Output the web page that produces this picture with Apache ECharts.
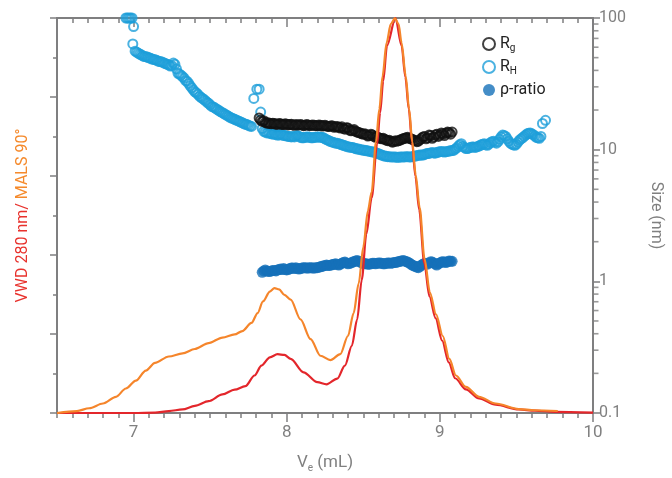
<!DOCTYPE html>
<html>
<head>
<meta charset="utf-8">
<script src="https://cdn.jsdelivr.net/npm/echarts@6/dist/echarts.min.js"></script>
<style>html,body{margin:0;padding:0;background:#fff}#c{width:672px;height:478px}</style>
</head>
<body>
<div id="c"></div>
<script>
// ---- data ----
const xTickLabels = [7, 8, 9, 10];
const sizeTickLabels = [0.1, 1, 10, 100];
const sizeMinorTicks = [0.2,0.3,0.4,0.5,0.6,0.7,0.8,0.9,2,3,4,5,6,7,8,9,20,30,40,50,60,70,80,90];

const malsX = [6.5,6.63,6.71,6.8,6.885,6.95,7.015,7.08,7.14,7.23,7.32,7.4,7.49,7.58,7.66,7.71,7.77,7.81,7.845,7.89,7.92,7.95,7.985,8.026,8.09,8.156,8.22,8.285,8.35,8.4,8.437,8.47,8.5,8.53,8.555,8.583,8.605,8.626,8.652,8.68,8.706,8.73,8.75,8.777,8.799,8.82,8.842,8.868,8.9,8.935,8.975,9.019,9.062,9.105,9.17,9.256,9.364,9.515,9.62,9.77];
const malsY = [0,0.5,1.2,2.4,4.1,6.2,8.2,10.75,12.7,14.3,15.1,16.2,17.7,19.1,19.9,20.75,22.8,25.3,28.25,30.75,31.6,31.3,29.9,28.7,23.7,18.7,14.5,13.4,14.9,19.5,25.3,32.8,42,51.2,56,68.7,77,85.3,93.7,98.5,99.9,98.5,93.7,85.3,77,68.7,60.3,52,39,30.5,25,19.5,13.7,9.5,6.6,4.1,2.4,1.0,0.7,0.5];

const vwdX = [6.5,7.0,7.14,7.23,7.32,7.4,7.49,7.58,7.66,7.73,7.79,7.835,7.89,7.94,7.985,8.026,8.11,8.2,8.26,8.33,8.38,8.425,8.46,8.49,8.52,8.555,8.59,8.61,8.63,8.655,8.71,8.75,8.775,8.797,8.818,8.84,8.865,8.898,8.932,8.972,9.015,9.058,9.1,9.17,9.256,9.364,9.515,9.62,9.75,10];
const vwdY = [0,0,0.1,0.5,0.9,1.8,3.0,4.7,5.9,6.8,9.5,12,14.1,14.9,14.7,13.7,10.3,7.8,7.25,8.7,12,17,23.7,33.7,45.3,54.5,68,76,84,93,100,93,85,77,68.7,60,51.5,38,29.5,24,18.3,12.8,8.8,6.0,3.7,2.1,0.9,0.6,0.3,0.1];

const rgData = [[7.82,17.4],[7.83,16.8],[7.84,16.4],[7.85,16.6],[7.86,16.1],[7.87,15.9],[7.88,16.0],[7.89,15.8],[7.90,15.7],[7.91,15.9],[7.92,15.8],[7.93,15.6],[7.94,15.6],[7.95,15.8],[7.96,15.7],[7.97,15.5],[7.98,15.5],[7.99,15.7],[8.00,15.6],[8.01,15.4],[8.02,15.5],[8.03,15.6],[8.04,15.4],[8.05,15.3],[8.06,15.5],[8.07,15.4],[8.08,15.4],[8.09,15.5],[8.10,15.4],[8.11,15.2],[8.12,15.3],[8.13,15.5],[8.14,15.4],[8.15,15.2],[8.16,15.3],[8.17,15.4],[8.18,15.3],[8.19,15.2],[8.20,15.2],[8.21,15.4],[8.22,15.3],[8.23,15.1],[8.24,15.2],[8.25,15.3],[8.26,15.1],[8.27,15.0],[8.28,15.0],[8.29,15.2],[8.30,15.1],[8.31,14.8],[8.32,14.9],[8.33,15.0],[8.34,14.8],[8.35,14.6],[8.36,14.9],[8.37,14.5],[8.38,14.3],[8.39,14.7],[8.40,14.6],[8.41,14.1],[8.42,13.9],[8.43,14.0],[8.44,14.2],[8.45,13.8],[8.46,13.6],[8.47,13.5],[8.48,13.4],[8.49,13.2],[8.50,13.1],[8.51,13.2],[8.52,13.0],[8.53,12.7],[8.54,12.8],[8.55,13.1],[8.56,12.9],[8.57,12.6],[8.58,12.4],[8.59,12.5],[8.60,12.3],[8.61,12.2],[8.62,12.1],[8.63,12.2],[8.64,12.0],[8.65,11.8],[8.66,11.7],[8.67,11.8],[8.68,11.6],[8.69,11.4],[8.70,11.5],[8.71,11.7],[8.72,11.6],[8.73,11.7],[8.74,11.8],[8.75,12.0],[8.76,12.1],[8.77,12.2],[8.78,12.3],[8.79,12.4],[8.80,12.2],[8.81,12.1],[8.82,12.0],[8.83,11.8],[8.84,11.7],[8.85,11.5],[8.86,11.6],[8.87,11.9],[8.88,12.2],[8.89,12.5],[8.90,12.6],[8.91,12.1],[8.92,12.3],[8.93,12.9],[8.94,12.8],[8.95,12.2],[8.96,12.5],[8.97,12.9],[8.98,13.1],[8.99,12.6],[9.00,12.9],[9.01,13.4],[9.02,13.2],[9.03,12.8],[9.04,13.3],[9.05,13.6],[9.06,13.5],[9.07,13.1],[9.08,13.6]];

const rhData = [[6.95,100],[6.96,100],[6.97,100],[6.98,100],[6.99,100],[7.00,86],[6.995,63.5],[7.01,56],[7.02,55],[7.03,54],[7.04,53.2],[7.05,52.5],[7.06,51.6],[7.07,51],[7.08,50.8],[7.09,50.5],[7.10,49.9],[7.11,49.5],[7.12,48.8],[7.13,48.5],[7.14,48.2],[7.15,47.8],[7.16,47.0],[7.17,46.8],[7.18,46.5],[7.19,46.2],[7.20,45.4],[7.21,45.0],[7.22,44.5],[7.23,44.0],[7.24,43.2],[7.25,43.5],[7.26,45.5],[7.27,44.5],[7.28,41],[7.29,38],[7.30,37.5],[7.31,36.8],[7.32,35.8],[7.33,35],[7.34,33.5],[7.35,33],[7.36,31.8],[7.37,30.5],[7.38,29.5],[7.39,28.4],[7.40,27.5],[7.41,27],[7.42,26.3],[7.43,25.5],[7.44,25.0],[7.45,24.5],[7.46,24.0],[7.47,23.5],[7.48,22.9],[7.49,22.5],[7.50,21.9],[7.51,21.3],[7.52,21.1],[7.53,20.8],[7.54,20.4],[7.55,20.1],[7.56,19.7],[7.57,19.4],[7.58,19.1],[7.59,18.8],[7.60,18.5],[7.61,18.2],[7.62,17.9],[7.63,17.6],[7.64,17.4],[7.65,17.2],[7.66,17.0],[7.67,16.8],[7.68,16.6],[7.69,16.4],[7.70,16.2],[7.71,16.0],[7.72,15.8],[7.73,15.6],[7.74,15.5],[7.75,15.3],[7.76,15.1],[7.77,15.0],[7.785,24.5],[7.805,28.8],[7.82,28.8],[7.83,19.3],[7.84,14.5],[7.85,13.8],[7.86,13.6],[7.87,13.4],[7.88,13.5],[7.89,13.3],[7.90,13.2],[7.91,13.1],[7.92,13.2],[7.93,13.0],[7.94,12.9],[7.95,12.9],[7.96,13.1],[7.97,13.0],[7.98,12.8],[7.99,12.8],[8.00,12.7],[8.01,12.6],[8.02,12.6],[8.03,12.5],[8.04,12.6],[8.05,12.5],[8.06,12.7],[8.07,12.8],[8.08,12.6],[8.09,12.4],[8.10,12.3],[8.11,12.3],[8.12,12.4],[8.13,12.5],[8.14,12.5],[8.15,12.4],[8.16,12.3],[8.17,12.3],[8.18,12.4],[8.19,12.4],[8.20,12.5],[8.21,12.5],[8.22,12.4],[8.23,12.4],[8.24,12.3],[8.25,12.1],[8.26,11.9],[8.27,11.8],[8.28,11.6],[8.29,11.5],[8.30,11.4],[8.31,11.3],[8.32,11.2],[8.33,11.2],[8.34,11.1],[8.35,11.0],[8.36,10.9],[8.37,10.8],[8.38,10.7],[8.39,10.6],[8.40,10.5],[8.41,10.5],[8.42,10.4],[8.43,10.4],[8.44,10.3],[8.45,10.2],[8.46,10.1],[8.47,10.1],[8.48,10.0],[8.49,10.0],[8.50,9.9],[8.51,9.9],[8.52,9.8],[8.53,9.8],[8.54,9.7],[8.55,9.7],[8.56,9.6],[8.57,9.6],[8.58,9.5],[8.59,9.4],[8.60,9.3],[8.61,9.2],[8.62,9.1],[8.63,9.0],[8.64,8.95],[8.65,8.9],[8.66,8.85],[8.67,8.85],[8.68,8.8],[8.69,8.8],[8.70,8.8],[8.71,8.8],[8.72,8.75],[8.73,8.75],[8.74,8.8],[8.75,8.8],[8.76,8.8],[8.77,8.8],[8.78,8.85],[8.79,8.85],[8.80,8.8],[8.81,8.8],[8.82,8.85],[8.83,8.9],[8.84,8.95],[8.85,9.0],[8.86,9.05],[8.87,9.1],[8.88,9.1],[8.89,9.1],[8.90,9.2],[8.91,9.3],[8.92,9.35],[8.93,9.4],[8.94,9.45],[8.95,9.5],[8.96,9.45],[8.97,9.4],[8.98,9.5],[8.99,9.6],[9.00,9.65],[9.01,9.7],[9.02,9.65],[9.03,9.6],[9.04,9.65],[9.05,9.7],[9.06,9.75],[9.07,9.8],[9.08,9.85],[9.09,9.9],[9.10,10.1],[9.11,10.3],[9.12,10.6],[9.13,10.9],[9.14,11.1],[9.15,10.6],[9.16,10.4],[9.17,10.2],[9.18,10.2],[9.19,10.3],[9.20,10.4],[9.21,10.5],[9.22,10.5],[9.23,10.4],[9.24,10.5],[9.25,10.6],[9.26,10.7],[9.27,10.9],[9.28,11.0],[9.29,11.1],[9.30,10.9],[9.31,10.8],[9.32,11.0],[9.33,11.3],[9.34,11.5],[9.35,11.6],[9.36,11.4],[9.37,11.2],[9.38,11.5],[9.39,12.0],[9.40,12.5],[9.41,12.9],[9.42,12.8],[9.43,12.6],[9.44,12.1],[9.45,11.6],[9.46,11.2],[9.47,11.0],[9.48,10.9],[9.49,10.8],[9.50,11.0],[9.51,11.4],[9.52,11.8],[9.53,12.1],[9.54,12.3],[9.55,12.6],[9.56,12.9],[9.57,13.2],[9.58,13.3],[9.59,13.4],[9.60,13.2],[9.61,13.0],[9.62,12.7],[9.63,12.4],[9.64,12.3],[9.65,12.2],[9.66,12.6],[9.67,15.8],[9.69,16.7]];

const rhoData = [[7.84,1.17],[7.85,1.20],[7.86,1.22],[7.87,1.20],[7.88,1.19],[7.89,1.19],[7.90,1.20],[7.91,1.21],[7.92,1.21],[7.93,1.20],[7.94,1.22],[7.95,1.23],[7.96,1.24],[7.97,1.23],[7.98,1.25],[7.99,1.23],[8.00,1.22],[8.01,1.23],[8.02,1.25],[8.03,1.26],[8.04,1.26],[8.05,1.25],[8.06,1.27],[8.07,1.25],[8.08,1.24],[8.09,1.25],[8.10,1.26],[8.11,1.27],[8.12,1.27],[8.13,1.26],[8.14,1.26],[8.15,1.27],[8.16,1.27],[8.17,1.26],[8.18,1.26],[8.19,1.27],[8.20,1.27],[8.21,1.28],[8.22,1.29],[8.23,1.30],[8.24,1.31],[8.25,1.32],[8.26,1.33],[8.27,1.32],[8.28,1.32],[8.29,1.33],[8.30,1.34],[8.31,1.35],[8.32,1.36],[8.33,1.34],[8.34,1.33],[8.35,1.35],[8.36,1.37],[8.37,1.39],[8.38,1.40],[8.39,1.38],[8.40,1.36],[8.41,1.37],[8.42,1.38],[8.43,1.40],[8.44,1.41],[8.45,1.43],[8.46,1.44],[8.47,1.42],[8.48,1.40],[8.49,1.38],[8.50,1.37],[8.51,1.36],[8.52,1.36],[8.53,1.35],[8.54,1.35],[8.55,1.36],[8.56,1.37],[8.57,1.37],[8.58,1.36],[8.59,1.37],[8.60,1.38],[8.61,1.38],[8.62,1.37],[8.63,1.36],[8.64,1.36],[8.65,1.37],[8.66,1.38],[8.67,1.38],[8.68,1.37],[8.69,1.38],[8.70,1.39],[8.71,1.39],[8.72,1.40],[8.73,1.41],[8.74,1.42],[8.75,1.43],[8.76,1.44],[8.77,1.43],[8.78,1.41],[8.79,1.40],[8.80,1.38],[8.81,1.35],[8.82,1.33],[8.83,1.31],[8.84,1.30],[8.85,1.28],[8.86,1.27],[8.87,1.30],[8.88,1.33],[8.89,1.35],[8.90,1.37],[8.91,1.36],[8.92,1.35],[8.93,1.38],[8.94,1.41],[8.95,1.40],[8.96,1.38],[8.97,1.35],[8.98,1.33],[8.99,1.36],[9.00,1.38],[9.01,1.40],[9.02,1.41],[9.03,1.40],[9.04,1.39],[9.05,1.41],[9.06,1.43],[9.07,1.42],[9.08,1.42]];

// ---- chart ----
const AX = '#7f7f80', TXT = '#808080', FONT = 'Roboto';
const X_MIN = 6.5, X_MAX = 10;
const zip = (xs, ys) => xs.map((x, i) => [x, ys[i]]);
const chart = echarts.init(document.getElementById('c'));

const baseX = {type:'value', min:X_MIN, max:X_MAX, splitLine:{show:false},
  axisLine:{onZero:false, lineStyle:{color:AX, width:2}}, axisLabel:{show:false}};

chart.setOption({
  animation:false,
  textStyle:{fontFamily:FONT},
  grid:{left:57, right:74, top:18, bottom:60},
  legend:{
    orient:'vertical', left:477, top:31, itemGap:6, itemWidth:12, itemHeight:12,
    data:['Rg','RH','ρ-ratio'],
    formatter: n => n === 'Rg' ? '{b|R}{s|g}' : (n === 'RH' ? '{b|R}{s|H}' : '{b|ρ-ratio}'),
    textStyle:{color:'#222', fontSize:16, rich:{b:{fontSize:16, color:'#222', fontFamily:FONT}, s:{fontSize:10, color:'#222', fontFamily:FONT, padding:[8,0,0,0]}}}
  },
  xAxis:[
    Object.assign({}, baseX, {position:'bottom', interval:0.1, axisTick:{length:5, lineStyle:{color:AX, width:1.5}},
      name:'{v|V}{s|e}{v| (mL)}', nameLocation:'middle', nameGap:40,
      nameTextStyle:{rich:{v:{fontSize:17, color:TXT, fontFamily:FONT}, s:{fontSize:10, color:TXT, fontFamily:FONT, padding:[10,0,0,0]}}}}),
    Object.assign({}, baseX, {position:'bottom', axisTick:{length:9, customValues:xTickLabels, lineStyle:{color:AX, width:1.5}},
      axisLabel:{show:true, customValues:xTickLabels, color:TXT, fontSize:17, margin:11}}),
    Object.assign({}, baseX, {position:'top', interval:0.1, axisTick:{inside:true, length:5, lineStyle:{color:AX, width:1.5}}}),
    Object.assign({}, baseX, {position:'top', axisTick:{inside:true, length:9, customValues:xTickLabels, lineStyle:{color:AX, width:1.5}},
      axisLabel:{show:false, customValues:xTickLabels}})
  ],
  yAxis:[
    {type:'value', position:'left', min:0, max:100, interval:10, splitLine:{show:false},
      axisLine:{onZero:false, lineStyle:{color:AX, width:2}}, axisLabel:{show:false}, axisTick:{length:4, lineStyle:{color:AX, width:1.5}},
      name:'{r|VWD 280 nm/ }{o|MALS 90°}', nameLocation:'middle', nameGap:26, nameRotate:90,
      nameTextStyle:{rich:{r:{color:'#e8322d', fontSize:16, fontFamily:FONT}, o:{color:'#f58a2c', fontSize:16, fontFamily:FONT}}}},
    {type:'value', position:'left', min:0, max:100, interval:20, splitLine:{show:false},
      axisLine:{onZero:false, lineStyle:{color:AX, width:2}}, axisLabel:{show:false}, axisTick:{length:7, lineStyle:{color:AX, width:1.5}}},
    {type:'log', logBase:10, position:'right', min:0.1, max:100, splitLine:{show:false},
      axisLine:{onZero:false, lineStyle:{color:AX, width:2}}, axisTick:{length:7, lineStyle:{color:AX, width:1.5}},
      axisLabel:{color:TXT, fontSize:16, margin:6, formatter: v => String(v)},
      name:'Size (nm)', nameLocation:'middle', nameGap:55, nameRotate:-90,
      nameTextStyle:{color:TXT, fontSize:16, fontFamily:FONT}}
  ],
  series:[
    {name:'RH', type:'scatter', xAxisIndex:0, yAxisIndex:2, data:rhData, symbolSize:9, clip:false, z:2,
      itemStyle:{color:'rgba(255,255,255,0)', borderColor:'#1e9fda', borderWidth:2}},
    {name:'Rg', type:'scatter', xAxisIndex:0, yAxisIndex:2, data:rgData, symbolSize:9, clip:false, z:2,
      itemStyle:{color:'rgba(255,255,255,0)', borderColor:'#111111', borderWidth:2}},
    {name:'ρ-ratio', type:'scatter', xAxisIndex:0, yAxisIndex:2, data:rhoData, symbolSize:11, clip:false, z:2,
      itemStyle:{color:'#1571b9'}},
    {name:'VWD', type:'line', xAxisIndex:0, yAxisIndex:0, data:zip(vwdX, vwdY), showSymbol:false, z:3,
      smooth:0.3, smoothMonotone:'x', lineStyle:{color:'#e3262b', width:2.2}},
    {name:'MALS', type:'line', xAxisIndex:0, yAxisIndex:0, data:zip(malsX, malsY), showSymbol:false, z:4,
      smooth:0.3, smoothMonotone:'x', lineStyle:{color:'#f5852b', width:2.2}},
    // minor ticks of the log size axis, drawn as short lines placed by the log axis at its right edge
    {name:'sizeMinorTicks', type:'scatter', xAxisIndex:0, yAxisIndex:2, data:sizeMinorTicks.map(v => [X_MAX, v]),
      symbol:'path://M0,0 L10,0 L10,2 L0,2 Z', symbolSize:[5, 1.6], symbolOffset:[3, 0], symbolKeepAspect:false,
      clip:false, silent:true, z:10, itemStyle:{color:AX, borderWidth:0}, tooltip:{show:false}}
  ]
});
</script>
</body>
</html>
